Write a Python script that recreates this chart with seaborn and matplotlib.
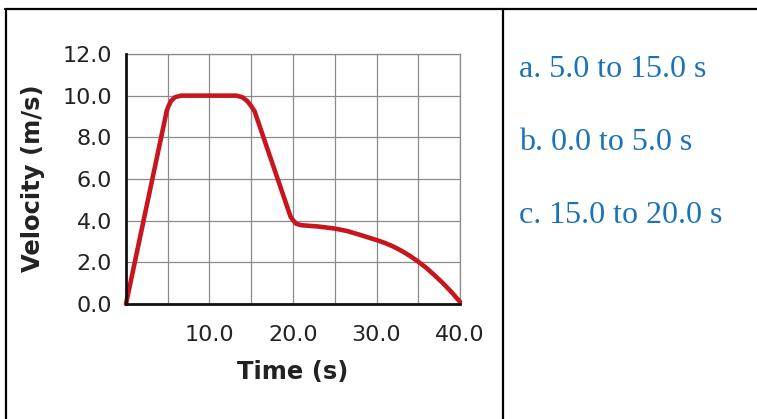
import matplotlib
matplotlib.use("Agg")
import matplotlib.pyplot as plt
from matplotlib.lines import Line2D
import seaborn as sns
import pandas as pd

# velocity-time curve
time_s = [0.0, 4.9, 5.1, 5.4, 5.9, 6.6, 13.2, 13.9, 14.5, 14.9, 15.4, 19.7,
          20.0, 20.4, 21.0, 23.0, 25.0, 26.5, 28.0, 30.0, 31.0, 32.0, 33.0,
          34.0, 35.0, 36.0, 37.0, 38.0, 39.0, 40.0]
velocity = [0.0, 9.3, 9.5, 9.75, 9.93, 10.0, 10.0, 9.93, 9.75, 9.55, 9.25, 4.2,
            4.02, 3.85, 3.78, 3.72, 3.62, 3.5, 3.32, 3.07, 2.93, 2.76, 2.55,
            2.31, 2.03, 1.72, 1.36, 0.98, 0.56, 0.1]

x_ticks = [0, 5, 10, 15, 20, 25, 30, 35, 40]
x_labels = ["", "", "10.0", "", "20.0", "", "30.0", "", "40.0"]
y_ticks = [0, 2, 4, 6, 8, 10, 12]
y_labels = ["0.0", "2.0", "4.0", "6.0", "8.0", "10.0", "12.0"]

answers = ["a. 5.0 to 15.0 s", "b. 0.0 to 5.0 s", "c. 15.0 to 20.0 s"]

sns.set_style("white")
plt.rcParams['font.family'] = ['DejaVu Sans']

df = pd.DataFrame({"t": time_s, "v": velocity})

fig = plt.figure(figsize=(7.57, 4.19), dpi=100)
ax = fig.add_axes([0.1664, 0.2745, 0.4413, 0.5967])

sns.lineplot(data=df, x="t", y="v", sort=False, estimator=None, ax=ax,
             color="#c8161e", linewidth=3.3, clip_on=False, zorder=5)
ax.lines[0].set_solid_joinstyle("round")
ax.lines[0].set_solid_capstyle("round")

ax.set_xlim(0, 40)
ax.set_ylim(0, 12)
ax.set_xticks(x_ticks)
ax.set_xticklabels(x_labels)
ax.set_yticks(y_ticks)
ax.set_yticklabels(y_labels)
ax.grid(True, color="#8a8a8a", linewidth=0.9)
ax.set_axisbelow(True)
ax.tick_params(axis="both", length=0, labelsize=16, colors="#222222")
ax.tick_params(axis="x", pad=15)
ax.tick_params(axis="y", pad=10)

for side in ["top", "right"]:
    ax.spines[side].set_color("#8a8a8a")
    ax.spines[side].set_linewidth(0.9)
for side in ["left", "bottom"]:
    ax.spines[side].set_color("#111111")
    ax.spines[side].set_linewidth(2.0)
    ax.spines[side].set_zorder(6)

ax.set_xlabel("Time (s)", fontsize=17.5, fontweight="bold", color="#222222")
ax.set_ylabel("Velocity (m/s)", fontsize=17.5, fontweight="bold", color="#222222")
ax.xaxis.set_label_coords(0.5, -0.224)
ax.yaxis.set_label_coords(-0.2425, 0.502)

# answer choices in the right cell
W, H = 757, 419
for txt, base in zip(answers, [77, 150, 223]):
    fig.text(519 / W, 1 - base / H, txt, fontsize=23, color="#1a72b8",
             family=["Liberation Serif", "DejaVu Serif"], va="baseline", ha="left")

# table borders
lw = 1.6
fig.add_artist(Line2D([5 / W, 1], [1 - 9 / H, 1 - 9 / H], color="black", linewidth=lw))
fig.add_artist(Line2D([6 / W, 6 / W], [0, 1 - 9 / H], color="black", linewidth=lw))
fig.add_artist(Line2D([503 / W, 503 / W], [0, 1 - 9 / H], color="black", linewidth=lw))

fig.savefig("out.png", dpi=100)
